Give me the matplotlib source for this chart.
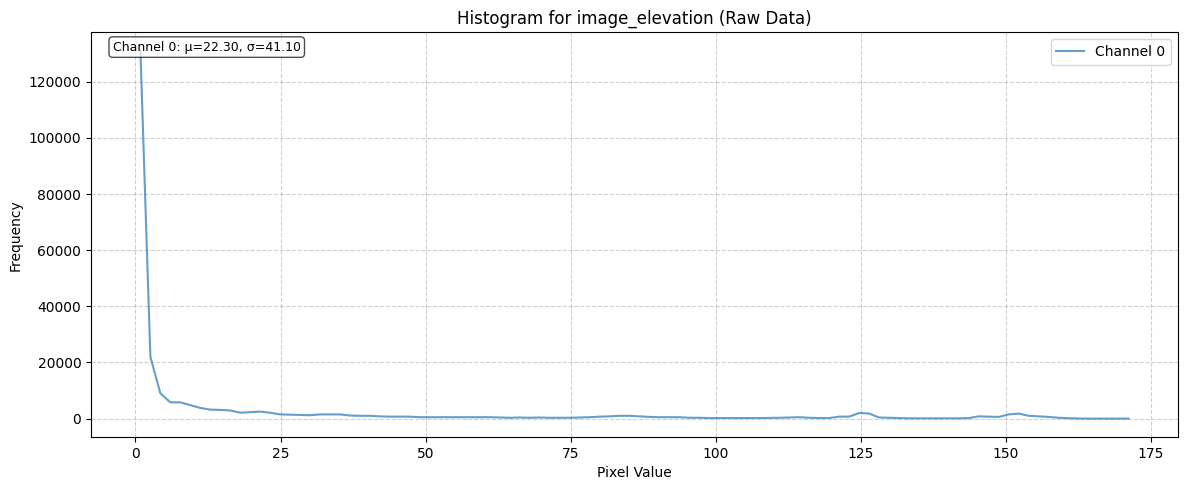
import numpy as np
import matplotlib
matplotlib.use("Agg")
import matplotlib.pyplot as plt

# Histogram settings
pixel_min = 0.0
pixel_max = 172.0
n_bins = 100

# Frequencies per bin
counts = [
    131000, 22000, 9000, 5800, 5800, 4800, 3800, 3200, 3100, 2900,
    2100, 2300, 2500, 2100, 1500, 1400, 1300, 1200, 1500, 1500,
    1500, 1100, 1000, 1000, 800, 700, 700, 700, 500, 500,
    500, 500, 500, 500, 500, 500, 400, 300, 400, 300,
    400, 300, 300, 300, 400, 500, 700, 800, 1000, 1000,
    800, 600, 500, 500, 500, 300, 300, 200, 200, 200,
    200, 200, 200, 250, 300, 400, 500, 300, 200, 200,
    700, 700, 2000, 1800, 400, 300, 200, 100, 100, 100,
    100, 100, 100, 200, 800, 700, 600, 1500, 1800, 1000,
    800, 600, 300, 150, 50, 0, 0, 0, 0, 0,
]
mu = 22.30
sigma = 41.10
title = "Histogram for image_elevation (Raw Data)"
series_label = "Channel 0"

edges = np.linspace(pixel_min, pixel_max, n_bins + 1)
centers = (edges[:-1] + edges[1:]) / 2

W, H = 1189, 490
fig, ax = plt.subplots(figsize=(W / 100, H / 100), dpi=100)
ax.plot(centers, counts, color="tab:blue", alpha=0.7, linewidth=1.5, label=series_label)
ax.set_title(title)
ax.set_xlabel("Pixel Value")
ax.set_ylabel("Frequency")
ax.grid(True, linestyle="--", alpha=0.6)
ax.legend(loc="upper right")
ax.text(0.02, 0.98, f"{series_label}: μ={mu:.2f}, σ={sigma:.2f}", transform=ax.transAxes,
        fontsize=9, va="top", ha="left",
        bbox=dict(boxstyle="round", facecolor="white", alpha=0.7))
fig.subplots_adjust(left=91 / W, right=1178 / W, top=1 - 32.5 / H, bottom=1 - 437 / H)
fig.savefig("out.png", dpi=100)
